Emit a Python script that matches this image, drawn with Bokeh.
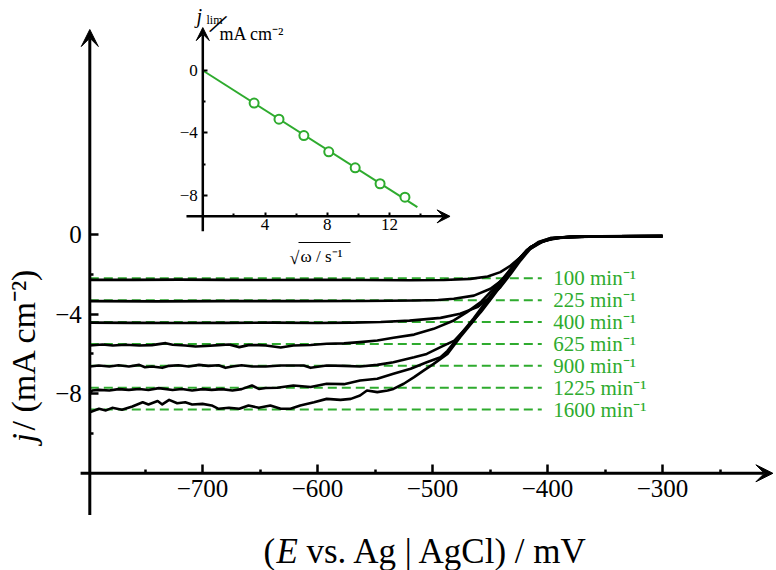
import math
from bokeh.plotting import figure
from bokeh.models import (Range1d, LinearAxis, FixedTicker, CustomJSTickFormatter,
                          Arrow, VeeHead, Label)
from bokeh.core.properties import value
from bokeh.embed import file_html
from bokeh.resources import INLINE

# ---------------- data ----------------
RPM = [100, 225, 400, 625, 900, 1225, 1600]
J_LEVELS = [-2.2, -3.3, -4.4, -5.5, -6.6, -7.7, -8.8]
E_START = -798
DASH_END = -405
LABEL_E = -395

E1 = [-798, -760, -720, -680, -640, -600, -560, -520, -490, -467, -452, -441, -432, -423.5, -415, -406, -394.5, -380, -354, -330, -300]
J1 = [-2.28, -2.28, -2.27, -2.28, -2.29, -2.28, -2.29, -2.30, -2.29, -2.23, -2.11, -1.89, -1.56, -1.14, -0.72, -0.39, -0.18, -0.12, -0.09, -0.08, -0.08]

E2 = [-798, -740, -680, -620, -560, -515, -495, -481.5, -464, -449.6, -438, -429.3, -420.6, -411.9, -401.7, -388.7, -370, -340, -300]
J2 = [-3.35, -3.36, -3.35, -3.35, -3.34, -3.32, -3.29, -3.23, -3.07, -2.73, -2.23, -1.64, -0.97, -0.55, -0.30, -0.16, -0.11, -0.09, -0.08]

E3 = [-798, -760, -720, -680, -640, -600, -570, -545, -520, -493, -476, -461, -450, -441, -432, -423.5, -415, -405, -394, -375, -340, -300]
J3 = [-4.43, -4.44, -4.45, -4.44, -4.43, -4.45, -4.43, -4.40, -4.33, -4.19, -3.98, -3.65, -3.15, -2.65, -1.98, -1.31, -0.72, -0.38, -0.19, -0.12, -0.09, -0.08]

E4 = [-798, -787, -778, -767, -755, -744, -732, -726, -715, -706, -697, -686, -677, -668, -660, -651, -645, -632, -621, -606, -592, -577, -563, -548, -534, -516, -499, -481.5, -470, -458, -447, -435, -423.5, -415, -405, -395, -380, -340, -300]
J4 = [-5.58, -5.53, -5.58, -5.54, -5.58, -5.56, -5.46, -5.54, -5.58, -5.63, -5.60, -5.56, -5.53, -5.66, -5.56, -5.56, -5.58, -5.68, -5.58, -5.55, -5.49, -5.47, -5.41, -5.33, -5.19, -5.03, -4.74, -4.32, -3.90, -3.40, -2.73, -1.97, -1.14, -0.64, -0.35, -0.19, -0.12, -0.09, -0.08]

E5 = [-798, -790, -781, -773, -764, -755, -750, -744, -735, -729, -721, -712, -703, -695, -686, -680, -674, -666, -657, -645, -632, -612, -606, -592, -577, -563, -548, -534, -516, -505, -493, -481, -470, -458, -447, -435, -423.5, -415, -405, -395, -380, -340, -300]
J5 = [-6.63, -6.58, -6.63, -6.57, -6.63, -6.55, -6.67, -6.63, -6.70, -6.60, -6.57, -6.63, -6.55, -6.60, -6.57, -6.70, -6.63, -6.57, -6.63, -6.63, -6.58, -6.58, -6.70, -6.58, -6.60, -6.63, -6.55, -6.42, -6.17, -6.00, -5.66, -5.33, -4.66, -3.90, -3.07, -2.14, -1.22, -0.64, -0.35, -0.19, -0.12, -0.09, -0.08]

E6 = [-798, -796, -790, -781, -773, -764, -755, -747, -738, -726, -718, -709, -700, -692, -683, -674, -666, -657, -651, -645, -635, -621, -606, -592, -577, -563, -548, -534, -519, -505, -493, -487, -476, -464, -452.5, -441, -429, -418, -408, -397, -380, -340, -300]
J6 = [-8.01, -7.84, -7.81, -7.84, -7.77, -7.81, -7.76, -7.81, -7.72, -7.81, -7.76, -7.84, -7.77, -7.81, -7.77, -7.84, -7.77, -7.59, -7.76, -7.71, -7.70, -7.59, -7.66, -7.50, -7.52, -7.34, -7.25, -7.00, -6.75, -6.42, -6.17, -5.85, -5.05, -4.20, -3.30, -2.40, -1.50, -0.78, -0.38, -0.18, -0.12, -0.09, -0.08]

E7 = [-798, -790, -784, -778.5, -770, -761, -752, -747, -739, -735, -729, -722, -715, -709, -700, -692, -686, -677, -668, -660, -651, -641, -632, -623.5, -615, -603, -592, -580, -571, -563, -557, -548, -539, -534, -525, -516, -507.5, -499, -493, -487, -476, -464, -452.5, -441, -429, -418, -408, -397, -380, -340, -300]
J7 = [-8.93, -8.76, -8.84, -8.71, -8.81, -8.64, -8.43, -8.54, -8.37, -8.54, -8.31, -8.48, -8.43, -8.54, -8.51, -8.59, -8.76, -8.71, -8.76, -8.59, -8.71, -8.59, -8.76, -8.76, -8.59, -8.43, -8.26, -8.31, -8.26, -8.09, -7.84, -7.92, -7.84, -7.76, -7.50, -7.17, -6.83, -6.50, -6.25, -6.00, -5.16, -4.32, -3.40, -2.48, -1.56, -0.80, -0.40, -0.18, -0.12, -0.09, -0.08]

CURVES = [(E1, J1), (E2, J2), (E3, J3), (E4, J4), (E5, J5), (E6, J6), (E7, J7)]

# inset: limiting current vs sqrt(omega)
SQRT_OMEGA = [3.3, 4.9, 6.5, 8.1, 9.8, 11.4, 13.0]
J_LIM = [-2.09, -3.12, -4.17, -5.21, -6.24, -7.26, -8.12]
FIT_X = [0.0, 13.8]
FIT_Y = [0.0, -8.76]

X_TICKS = [-700, -600, -500, -400, -300]
X_MINOR = [-750, -650, -550, -450, -350, -250]
Y_TICKS = [-8, -4, 0]
Y_MINOR = [-10, -6, -2]
IX_TICKS = [4, 8, 12]
IX_MINOR = [2, 6, 10, 14]
IY_TICKS = [-8, -4, 0]
IY_MINOR = [-6, -2]

# axis placement (data units)
MAIN_YAXIS_AT = -798
MAIN_XAXIS_AT = -12.0
MAIN_X_EXTENT = (-806, -204)
MAIN_Y_EXTENT = (-14.1, 10.3)
INSET_YAXIS_AT = 0.0
INSET_XAXIS_AT = -9.35
INSET_X_EXTENT = (-1.05, 15.9)
INSET_Y_EXTENT = (-10.3, 2.75)

# ---------------- layout ----------------
W, H = 776, 570
FONT = "Liberation Serif"
GREEN = "#2eab2e"

SX, SY = 1.15, 19.9           # px per mV, px per mA cm-2
X0 = -700 - 202 / SX
Y1 = 234 / SY
ISX, ISY = 15.55, 15.6
IX0 = -202.3 / ISX
IY1 = 70 / ISY


def mx(px):
    return X0 + px / SX


def my(py):
    return Y1 - py / SY


p = figure(width=W, height=H, output_backend="svg", toolbar_location=None,
           x_range=Range1d(X0, X0 + W / SX), y_range=Range1d(Y1 - H / SY, Y1),
           x_axis_location=None, y_axis_location=None, min_border=0,
           outline_line_color=None, background_fill_color="white")
p.extra_x_ranges = {"ix": Range1d(IX0, IX0 + W / ISX)}
p.extra_y_ranges = {"iy": Range1d(IY1 - H / ISY, IY1)}
p.xgrid.visible = False
p.ygrid.visible = False

fmt_code = "return (tick < 0 ? '\u2212' : '') + Math.abs(tick).toString();"


def make_axis(ticks, minor, loc, size, standoff, tin, mtin, tw, **kw):
    return LinearAxis(fixed_location=loc,
                      ticker=FixedTicker(ticks=ticks, minor_ticks=minor),
                      formatter=CustomJSTickFormatter(code=fmt_code),
                      axis_line_color=None,
                      major_tick_in=tin, major_tick_out=0,
                      minor_tick_in=mtin, minor_tick_out=0,
                      major_tick_line_width=tw, minor_tick_line_width=tw,
                      major_tick_line_color="black", minor_tick_line_color="black",
                      major_label_text_font=FONT,
                      major_label_text_font_size=size,
                      major_label_text_color="black",
                      major_label_standoff=standoff, **kw)


p.add_layout(make_axis(Y_TICKS, Y_MINOR, MAIN_YAXIS_AT, "25px", 8, 9, 4, 2.5), "left")
p.add_layout(make_axis(X_TICKS, X_MINOR, MAIN_XAXIS_AT, "25px", 7, 9, 4, 2.5), "below")
p.add_layout(make_axis(IY_TICKS, IY_MINOR, INSET_YAXIS_AT, "17px", 5, 5, 3, 2,
                       x_range_name="ix", y_range_name="iy"), "left")
p.add_layout(make_axis(IX_TICKS, IX_MINOR, INSET_XAXIS_AT, "17px", 3, 4, 3, 2,
                       x_range_name="ix", y_range_name="iy"), "below")


# axis lines with arrow heads
def head(size):
    return VeeHead(size=size, fill_color="black", line_color="black", line_width=1)


p.add_layout(Arrow(end=head(17), x_start=MAIN_YAXIS_AT, y_start=MAIN_Y_EXTENT[0],
                   x_end=MAIN_YAXIS_AT, y_end=MAIN_Y_EXTENT[1], line_width=3))
p.add_layout(Arrow(end=head(17), x_start=MAIN_X_EXTENT[0], y_start=MAIN_XAXIS_AT,
                   x_end=MAIN_X_EXTENT[1], y_end=MAIN_XAXIS_AT, line_width=3))
p.add_layout(Arrow(end=head(13), x_start=INSET_YAXIS_AT, y_start=INSET_Y_EXTENT[0],
                   x_end=INSET_YAXIS_AT, y_end=INSET_Y_EXTENT[1], line_width=2.5,
                   x_range_name="ix", y_range_name="iy"))
p.add_layout(Arrow(end=head(13), x_start=INSET_X_EXTENT[0], y_start=INSET_XAXIS_AT,
                   x_end=INSET_X_EXTENT[1], y_end=INSET_XAXIS_AT, line_width=2.5,
                   x_range_name="ix", y_range_name="iy"))

# green dashed limiting-current guides and labels
p.segment(x0=[E_START] * len(J_LEVELS), y0=J_LEVELS,
          x1=[DASH_END] * len(J_LEVELS), y1=J_LEVELS,
          line_color=GREEN, line_width=2, line_dash="9 5")
p.text(x=[LABEL_E] * len(RPM), y=J_LEVELS,
       text=[f"{r} min\u207b\u00b9" for r in RPM],
       text_font=value(FONT), text_font_size="21px", text_color=GREEN,
       text_align="left", text_baseline="middle")

# polarisation curves
for e, j in CURVES:
    p.line(e, j, line_color="black", line_width=2.6, line_join="round")

# inset data
p.line(FIT_X, FIT_Y, x_range_name="ix", y_range_name="iy", line_color=GREEN, line_width=2)
p.scatter(SQRT_OMEGA, J_LIM, x_range_name="ix", y_range_name="iy", marker="circle",
          size=9, fill_color="white", line_color=GREEN, line_width=2)


# ---------------- text labels ----------------
def lab(px, py, text, size, style="normal", align="left", baseline="alphabetic", angle=0.0):
    p.add_layout(Label(x=mx(px), y=my(py), text=text, text_font=FONT,
                       text_font_size=size, text_font_style=style, text_color="black",
                       text_align=align, text_baseline=baseline, angle=angle))


# main y label
lab(23, 442, "j", "34px", style="italic", baseline="middle", angle=math.pi / 2)
lab(23, 430, " / (mA cm\u207b\u00b2)", "34px", baseline="middle", angle=math.pi / 2)

# main x label
lab(263, 551, "(", "35px")
lab(276, 551, "E", "35px", style="italic")
lab(306, 551, "vs. Ag | AgCl) / mV", "35px")

# inset y label
lab(196, 15, "j", "20px", style="italic")
lab(206, 19, "lim", "12px")
lab(218, 23, "/", "32px", baseline="middle", align="center", angle=-0.5)
lab(219, 33, "mA cm\u207b\u00b2", "18px")

# inset x label
lab(289, 257, "\u221a", "18px")
lab(300, 256, "\u03c9 / s\u207b\u00b9", "17px")
p.segment(x0=[mx(298)], y0=[my(242)], x1=[mx(350)], y1=[my(242)],
          line_color="black", line_width=1.2)

open("out.html", "w").write(file_html(p, INLINE))
